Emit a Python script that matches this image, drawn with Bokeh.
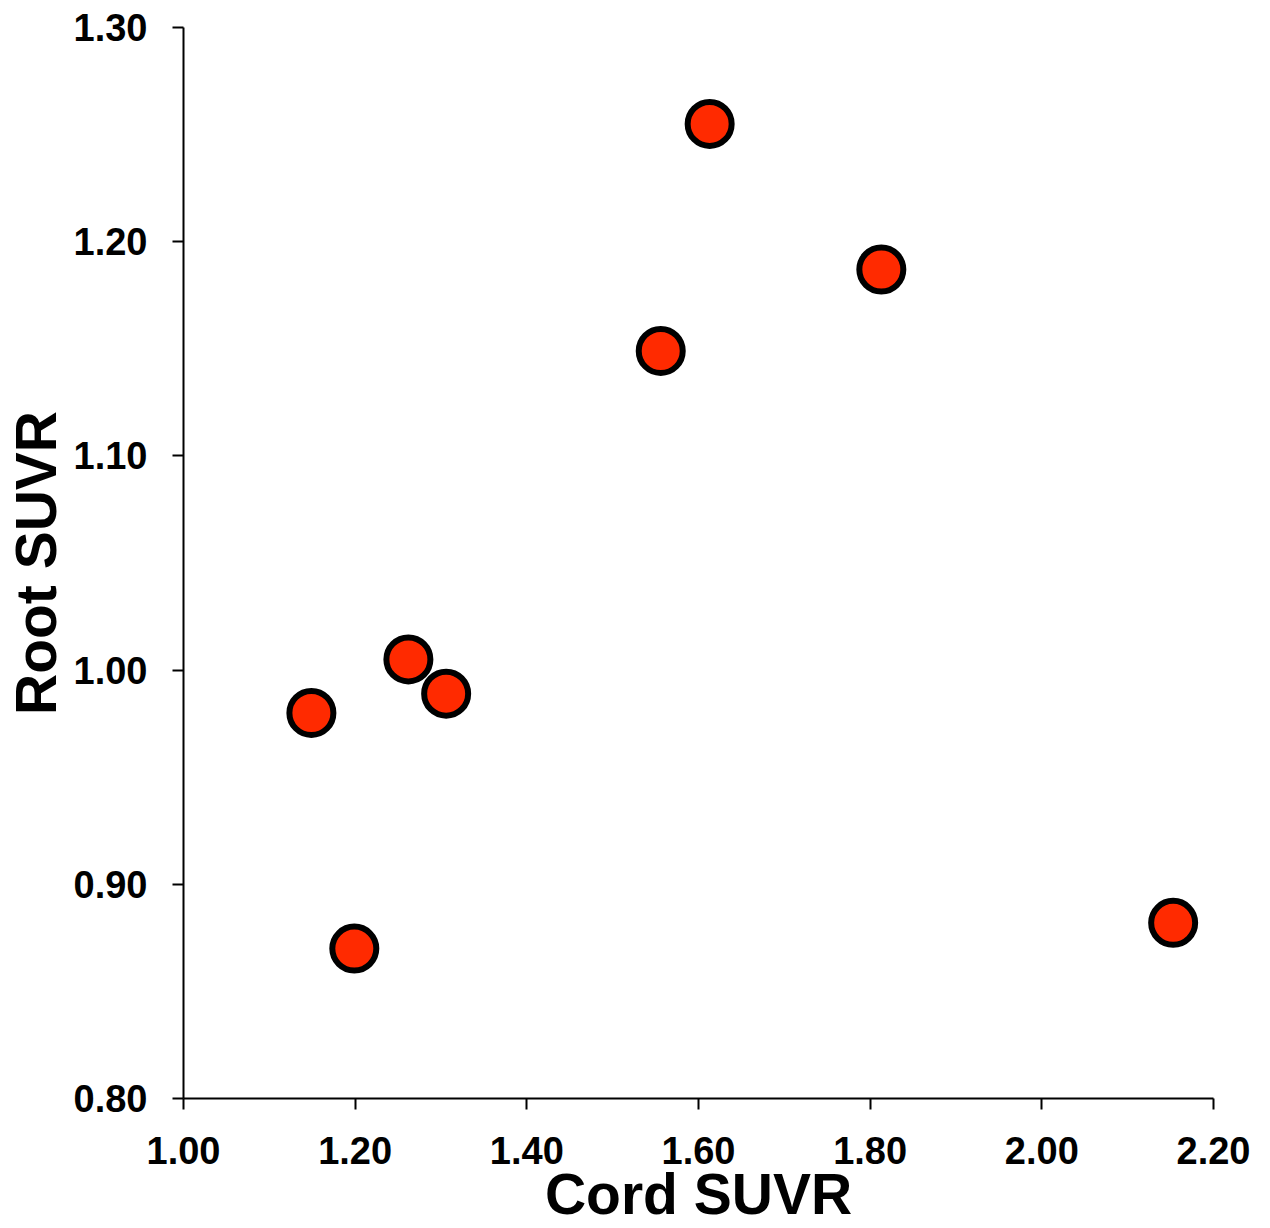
from bokeh.plotting import figure
from bokeh.embed import file_html
from bokeh.resources import INLINE
from bokeh.models import Range1d, FixedTicker, NumeralTickFormatter

cord_suvr = [1.613, 1.813, 1.556, 1.262, 1.306, 1.149, 1.199, 2.153]
root_suvr = [1.255, 1.187, 1.149, 1.005, 0.989, 0.980, 0.870, 0.882]
x_ticks = [1.0, 1.2, 1.4, 1.6, 1.8, 2.0, 2.2]
y_ticks = [0.8, 0.9, 1.0, 1.1, 1.2, 1.3]

p = figure(width=1262, height=1228, output_backend="svg", toolbar_location=None,
           x_range=Range1d(1.0, 2.2), y_range=Range1d(0.8, 1.3),
           min_border_left=183, min_border_right=49, min_border_top=27, min_border_bottom=130)
p.outline_line_color = None
p.grid.grid_line_color = None
p.background_fill_color = "white"
p.border_fill_color = "white"

p.scatter(cord_suvr, root_suvr, size=44, fill_color="#FF2A00", line_color="black", line_width=6)

font = "Liberation Sans"
for ax, ticks in ((p.xaxis, x_ticks), (p.yaxis, y_ticks)):
    ax.ticker = FixedTicker(ticks=ticks)
    ax.formatter = NumeralTickFormatter(format="0.00")
    ax.axis_line_width = 2
    ax.axis_line_color = "black"
    ax.major_tick_line_width = 2
    ax.major_tick_line_color = "black"
    ax.major_tick_out = 11
    ax.major_tick_in = 0
    ax.minor_tick_line_color = None
    ax.major_label_text_font = font
    ax.major_label_text_font_style = "bold"
    ax.major_label_text_font_size = "38px"
    ax.major_label_text_color = "black"
    ax.axis_label_text_font = font
    ax.axis_label_text_font_style = "bold"
    ax.axis_label_text_font_size = "57px"
    ax.axis_label_text_color = "black"

p.xaxis.axis_label = "Cord SUVR"
p.yaxis.axis_label = "Root SUVR"
p.xaxis.major_label_standoff = 27
p.yaxis.major_label_standoff = 25
p.xaxis.axis_label_standoff = -5
p.yaxis.axis_label_standoff = 3

open("out.html", "w").write(file_html(p, INLINE))
